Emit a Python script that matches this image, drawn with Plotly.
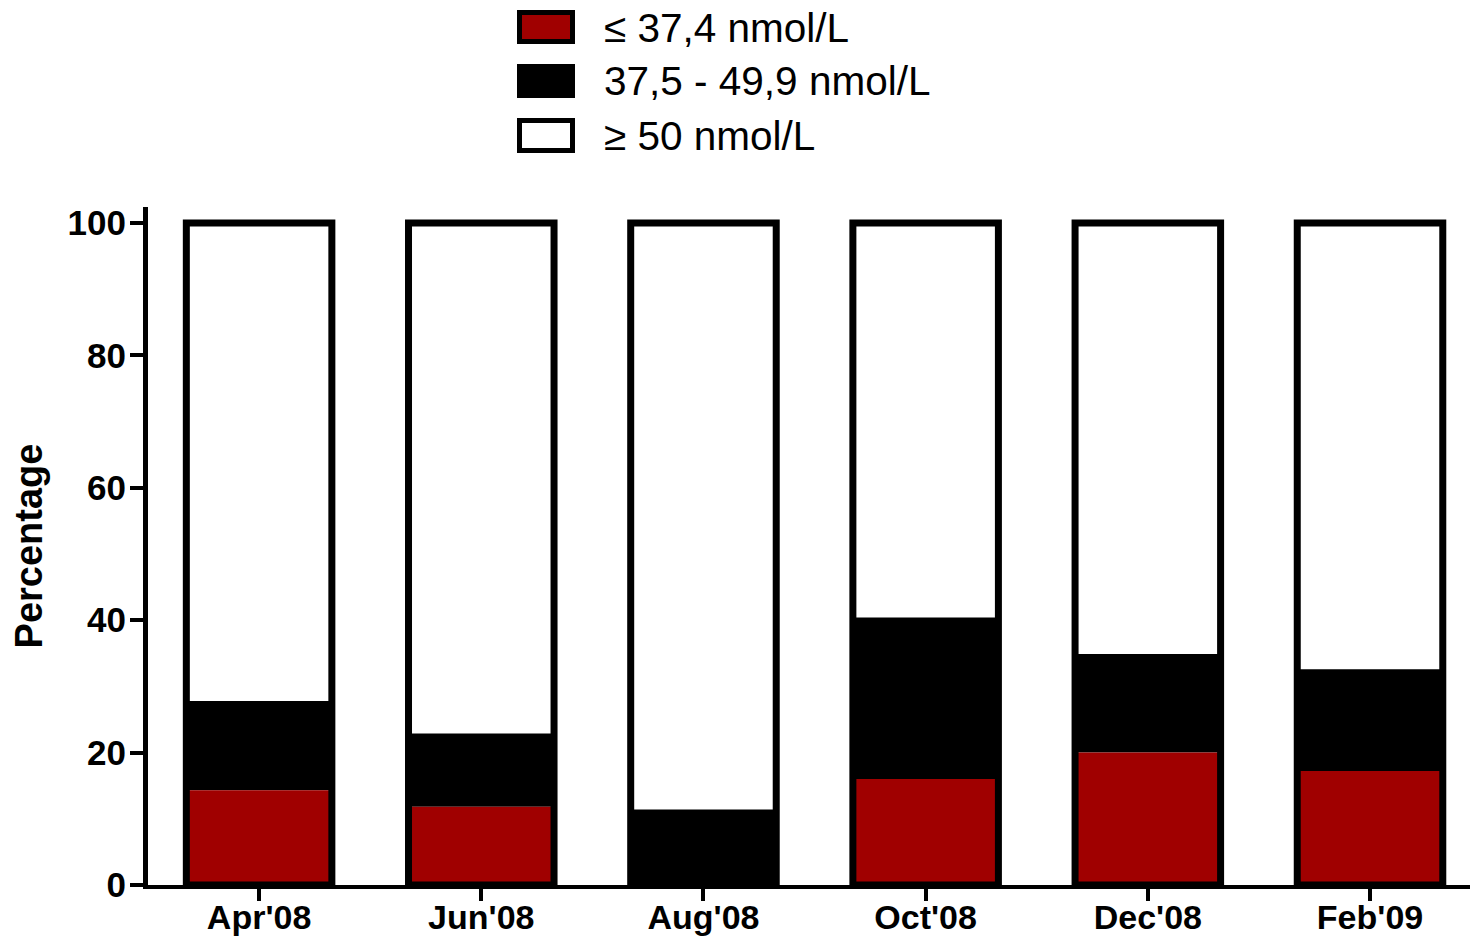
import plotly.graph_objects as go

# Survey months
months = ["Apr'08", "Jun'08", "Aug'08", "Oct'08", "Dec'08", "Feb'09"]

# Percentage of subjects in each 25(OH)D class
pct_low = [14.3, 11.8, 0.0, 16.0, 20.0, 17.2]      # <= 37,4 nmol/L
pct_mid = [13.5, 11.1, 11.4, 24.4, 14.9, 15.4]     # 37,5 - 49,9 nmol/L
pct_high = [round(100 - a - b, 1) for a, b in zip(pct_low, pct_mid)]  # >= 50 nmol/L

legend_labels = ["\u2264 37,4 nmol/L", "37,5 - 49,9 nmol/L", "\u2265 50 nmol/L"]
legend_fills = ["#a00000", "#000000", "#ffffff"]

totals = [a + b + c for a, b, c in zip(pct_low, pct_mid, pct_high)]
base_mid = pct_low
base_high = [a + b for a, b in zip(pct_low, pct_mid)]

BAR_W = 0.655
W, H = 1470, 938
L, R, T, B = 148, 0, 207, 53
FONT = "Liberation Sans, Arial, sans-serif"

fig = go.Figure()
fig.add_trace(go.Bar(x=months, y=pct_high, base=base_high, width=BAR_W,
                     marker=dict(color="#ffffff", line=dict(width=0)), name=legend_labels[2]))
fig.add_trace(go.Bar(x=months, y=pct_mid, base=base_mid, width=BAR_W,
                     marker=dict(color="#000000", line=dict(width=0)), name=legend_labels[1]))
fig.add_trace(go.Bar(x=months, y=pct_low, base=[0] * len(months), width=BAR_W,
                     marker=dict(color="#a00000", line=dict(width=0)), name=legend_labels[0]))
# thick outline around every full column
fig.add_trace(go.Bar(x=months, y=totals, base=[0] * len(months), width=BAR_W,
                     marker=dict(color="rgba(0,0,0,0)", line=dict(color="#000000", width=7)),
                     hoverinfo="skip"))

# pixel -> paper helpers for the legend block
pw, ph = W - L - R, H - T - B
def px(x):
    return (x - L) / pw
def py(y):
    return (H - B - y) / ph

boxes = [(12.5, 41.5), (66.5, 95.5), (120.5, 150.5)]
text_y = [28, 81, 136]
shapes = []
annotations = []
for (y0, y1), fill, lab, ty in zip(boxes, legend_fills, legend_labels, text_y):
    shapes.append(dict(type="rect", xref="paper", yref="paper",
                       x0=px(519.5), x1=px(572.5), y0=py(y1), y1=py(y0),
                       fillcolor=fill, line=dict(color="#000000", width=5)))
    annotations.append(dict(text=lab, xref="paper", yref="paper", x=px(602), y=py(ty),
                            xanchor="left", yanchor="middle", showarrow=False,
                            font=dict(family=FONT, size=40.5, color="#000000")))

fig.update_layout(
    width=W, height=H,
    barmode="overlay",
    showlegend=False,
    plot_bgcolor="#ffffff", paper_bgcolor="#ffffff",
    margin=dict(l=L, r=R, t=T, b=B, autoexpand=False),
    shapes=shapes,
    annotations=annotations,
    xaxis=dict(range=[-0.5, 5.45], showgrid=False, zeroline=False, automargin=False,
               showline=True, linecolor="#000000", linewidth=4,
               ticks="outside", ticklen=12, tickwidth=4, tickcolor="#000000",
               ticklabelstandoff=-13,
               tickfont=dict(family=FONT, size=34, color="#000000", weight="bold")),
    yaxis=dict(range=[0, 102.4], showgrid=False, zeroline=False, automargin=False,
               showline=True, linecolor="#000000", linewidth=5,
               tickvals=[0, 20, 40, 60, 80, 100],
               ticks="outside", ticklen=13, tickwidth=4, tickcolor="#000000",
               ticklabelstandoff=-3,
               tickfont=dict(family=FONT, size=35, color="#000000", weight="bold"),
               title=dict(text="Percentage", standoff=15,
                          font=dict(family=FONT, size=38, color="#000000", weight="bold"))),
)

fig.write_html("out.html")
